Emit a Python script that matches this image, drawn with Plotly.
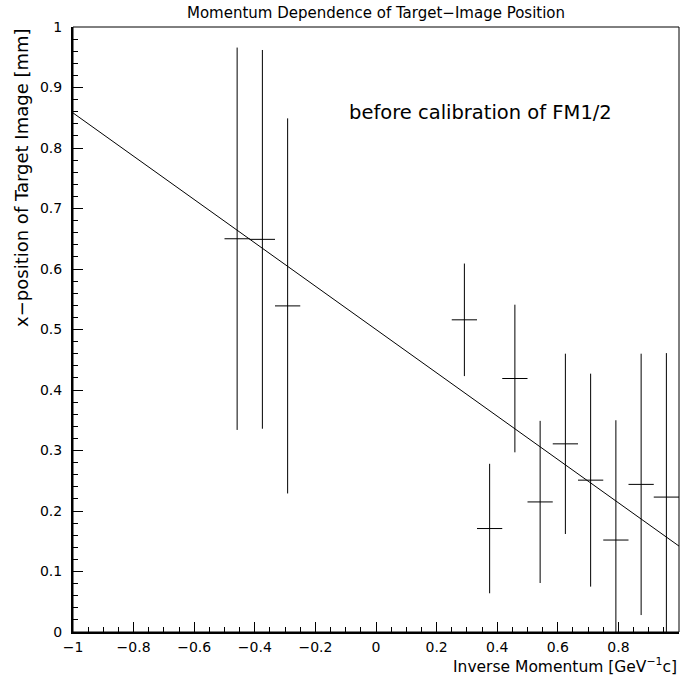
import plotly.graph_objects as go

x_vals = [-11/24, -9/24, -7/24, 7/24, 9/24, 11/24, 13/24, 15/24, 17/24, 19/24, 21/24, 23/24]
y_vals = [0.650, 0.649, 0.539, 0.516, 0.171, 0.419, 0.215, 0.311, 0.251, 0.152, 0.244, 0.223]
y_err = [0.316, 0.313, 0.310, 0.093, 0.107, 0.122, 0.134, 0.149, 0.176, 0.198, 0.216, 0.238]
x_err = [1/24] * 12

fit_x = [-1.0, 1.0]
fit_y = [0.858, 0.142]

FONT = "DejaVu Sans"

fig = go.Figure()
fig.add_trace(go.Scatter(
    x=fit_x, y=fit_y, mode="lines",
    line=dict(color="black", width=1), showlegend=False, hoverinfo="skip"))
fig.add_trace(go.Scatter(
    x=x_vals, y=y_vals, mode="markers",
    marker=dict(size=0, color="black", opacity=0),
    error_y=dict(type="data", array=y_err, visible=True, color="black", thickness=1, width=0),
    error_x=dict(type="data", array=x_err, visible=True, color="black", thickness=1, width=0),
    showlegend=False))

fig.update_layout(
    width=680, height=675,
    margin=dict(l=73, r=1, t=27, b=43),
    paper_bgcolor="white", plot_bgcolor="white",
    font=dict(family=FONT, color="black", size=13),
    title=dict(text="Momentum Dependence of Target\u2212Image Position",
               x=376/680, xanchor="center", y=1-13/675, yanchor="middle",
               font=dict(size=15)),
    shapes=[dict(type="rect", xref="paper", yref="paper", x0=0, y0=0, x1=1, y1=1,
                 line=dict(color="black", width=1))],
    annotations=[
        dict(text="before calibration of FM1/2", x=-0.096, y=0.859, xref="x", yref="y",
             xanchor="left", yanchor="middle", showarrow=False, font=dict(size=19.5)),
        dict(text="Inverse Momentum [GeV<sup>\u22121</sup>c]", x=1, y=-0.056, xref="paper", yref="paper",
             xanchor="right", yanchor="middle", showarrow=False, font=dict(size=15.5)),
        dict(text="x\u2212position of Target Image [mm]", x=-0.086, y=1, xref="paper", yref="paper",
             xanchor="center", yanchor="top", textangle=-90, showarrow=False, font=dict(size=18)),
    ],
)

fig.update_xaxes(
    range=[-1, 1], showgrid=False, zeroline=False,
    showline=True, linecolor="black", linewidth=2,
    ticks="inside", ticklen=10, tickwidth=1, tickcolor="black",
    tickmode="array", tickvals=[-1, -0.8, -0.6, -0.4, -0.2, 0, 0.2, 0.4, 0.6, 0.8, 1],
    ticktext=["\u22121", "\u22120.8", "\u22120.6", "\u22120.4", "\u22120.2", "0", "0.2", "0.4", "0.6", "0.8", "1"],
    minor=dict(dtick=0.05, tick0=0, ticks="inside", ticklen=5, tickcolor="black", showgrid=False),
    tickfont=dict(size=14), ticklabelstandoff=1,
)
fig.update_yaxes(
    range=[0, 1], showgrid=False, zeroline=False,
    showline=True, linecolor="black", linewidth=2,
    ticks="inside", ticklen=10, tickwidth=1, tickcolor="black",
    tickmode="array", tickvals=[0, 0.1, 0.2, 0.3, 0.4, 0.5, 0.6, 0.7, 0.8, 0.9, 1],
    ticktext=["0", "0.1", "0.2", "0.3", "0.4", "0.5", "0.6", "0.7", "0.8", "0.9", "1"],
    minor=dict(dtick=0.02, tick0=0, ticks="inside", ticklen=5, tickcolor="black", showgrid=False),
    tickfont=dict(size=14), ticklabelstandoff=6,
)

fig.write_html("out.html")
